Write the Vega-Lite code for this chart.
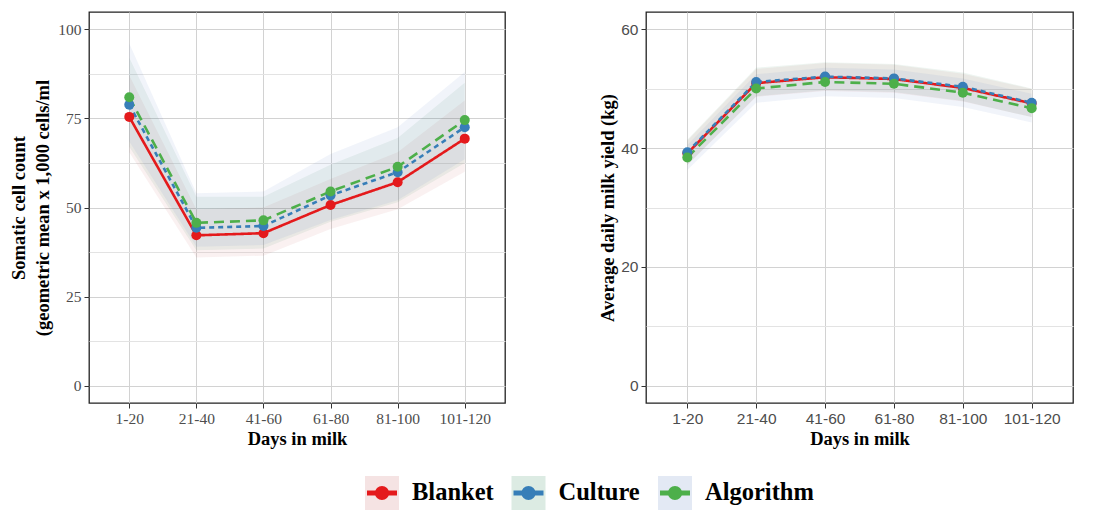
{
  "$schema": "https://vega.github.io/schema/vega-lite/v6.json",
  "background": "white",
  "padding": {"left": 9, "top": 11, "right": 0, "bottom": 0},
  "config": {
    "view": {"stroke": "#222222", "strokeWidth": 1.3},
    "axis": {
      "domain": false,
      "grid": true,
      "gridColor": "#d2d2d2",
      "gridWidth": 1,
      "tickColor": "#333333",
      "tickSize": 5,
      "labelPadding": 3,
      "labelColor": "#4d4d4d",
      "labelFontSize": 15.5,
      "titleFont": "Liberation Serif",
      "titleFontWeight": "bold",
      "titleFontSize": 18.5,
      "titleColor": "#000000"
    }
  },
  "datasets": {
    "scc": [
      {"dim": "1-20", "group": "Blanket", "mean": 75.4, "lo": 65.5, "hi": 87},
      {"dim": "21-40", "group": "Blanket", "mean": 42.2, "lo": 36, "hi": 49.5},
      {"dim": "41-60", "group": "Blanket", "mean": 42.8, "lo": 36.5, "hi": 50},
      {"dim": "61-80", "group": "Blanket", "mean": 50.7, "lo": 44, "hi": 58},
      {"dim": "81-100", "group": "Blanket", "mean": 57.1, "lo": 49.5, "hi": 65.5},
      {"dim": "101-120", "group": "Blanket", "mean": 69.3, "lo": 60, "hi": 80},
      {"dim": "1-20", "group": "Culture", "mean": 78.8, "lo": 67, "hi": 92},
      {"dim": "21-40", "group": "Culture", "mean": 44.3, "lo": 38, "hi": 53},
      {"dim": "41-60", "group": "Culture", "mean": 44.8, "lo": 38.5, "hi": 53},
      {"dim": "61-80", "group": "Culture", "mean": 53.4, "lo": 46, "hi": 62},
      {"dim": "81-100", "group": "Culture", "mean": 59.9, "lo": 51.5, "hi": 69.5},
      {"dim": "101-120", "group": "Culture", "mean": 72.5, "lo": 62.5, "hi": 85},
      {"dim": "1-20", "group": "Algorithm", "mean": 80.9, "lo": 68.5, "hi": 96},
      {"dim": "21-40", "group": "Algorithm", "mean": 45.7, "lo": 39, "hi": 54},
      {"dim": "41-60", "group": "Algorithm", "mean": 46.4, "lo": 39.5, "hi": 54.5},
      {"dim": "61-80", "group": "Algorithm", "mean": 54.5, "lo": 46.5, "hi": 65},
      {"dim": "81-100", "group": "Algorithm", "mean": 61.4, "lo": 52, "hi": 72.5},
      {"dim": "101-120", "group": "Algorithm", "mean": 74.5, "lo": 63.5, "hi": 88}
    ],
    "milk": [
      {"dim": "1-20", "group": "Blanket", "mean": 39.1, "lo": 37.1, "hi": 41.2},
      {"dim": "21-40", "group": "Blanket", "mean": 50.9, "lo": 48.6, "hi": 53.3},
      {"dim": "41-60", "group": "Blanket", "mean": 51.9, "lo": 49.6, "hi": 54.3},
      {"dim": "61-80", "group": "Blanket", "mean": 51.6, "lo": 49.3, "hi": 54.0},
      {"dim": "81-100", "group": "Blanket", "mean": 50.1, "lo": 47.8, "hi": 52.5},
      {"dim": "101-120", "group": "Blanket", "mean": 47.5, "lo": 45.2, "hi": 49.9},
      {"dim": "1-20", "group": "Culture", "mean": 39.3, "lo": 37.2, "hi": 41.4},
      {"dim": "21-40", "group": "Culture", "mean": 51.1, "lo": 48.7, "hi": 53.5},
      {"dim": "41-60", "group": "Culture", "mean": 52.0, "lo": 49.7, "hi": 54.4},
      {"dim": "61-80", "group": "Culture", "mean": 51.7, "lo": 49.4, "hi": 54.1},
      {"dim": "81-100", "group": "Culture", "mean": 50.3, "lo": 47.9, "hi": 52.7},
      {"dim": "101-120", "group": "Culture", "mean": 47.6, "lo": 45.2, "hi": 50.0},
      {"dim": "1-20", "group": "Algorithm", "mean": 38.4, "lo": 36.3, "hi": 40.5},
      {"dim": "21-40", "group": "Algorithm", "mean": 50.0, "lo": 47.6, "hi": 52.4},
      {"dim": "41-60", "group": "Algorithm", "mean": 51.1, "lo": 48.7, "hi": 53.5},
      {"dim": "61-80", "group": "Algorithm", "mean": 50.8, "lo": 48.4, "hi": 53.2},
      {"dim": "81-100", "group": "Algorithm", "mean": 49.3, "lo": 46.9, "hi": 51.7},
      {"dim": "101-120", "group": "Algorithm", "mean": 46.7, "lo": 44.3, "hi": 49.1}
    ],
    "groups": [
      {"group": "Blanket"},
      {"group": "Culture"},
      {"group": "Algorithm"}
    ]
  },
  "spacing": 27,
  "vconcat": [
    {
      "spacing": 92,
      "hconcat": [
        {
          "width": 416,
          "height": 391,
          "data": {"name": "scc"},
          "encoding": {
            "x": {
              "field": "dim",
              "type": "ordinal",
              "sort": ["1-20", "21-40", "41-60", "61-80", "81-100", "101-120"],
              "scale": {"type": "point", "padding": 0.6},
              "axis": {"title": "Days in milk", "labelAngle": 0, "labelFont": "Liberation Serif", "titlePadding": 3}
            }
          },
          "layer": [
            {
              "mark": {"type": "area", "fillOpacity": 0.075},
              "encoding": {
                "y": {
                  "field": "lo",
                  "type": "quantitative",
                  "scale": {"domain": [-4.8, 104.8], "nice": false, "zero": false},
                  "axis": {
                    "title": ["Somatic cell count", "(geometric mean x 1,000 cells/ml"],
                    "titleLineHeight": 24,
                    "titlePadding": 5,
                    "labelFont": "Liberation Serif",
                    "values": [0, 12.5, 25, 37.5, 50, 62.5, 75, 87.5, 100],
                    "labelExpr": "datum.value % 25 === 0 ? datum.label : ''",
                    "tickColor": {"condition": {"test": "datum.value % 25 !== 0", "value": "transparent"}, "value": "#333333"},
                    "gridColor": {"condition": {"test": "datum.value % 25 !== 0", "value": "#e3e3e3"}, "value": "#d2d2d2"}
                  }
                },
                "y2": {"field": "hi"},
                "fill": {
                  "field": "group",
                  "type": "nominal",
                  "scale": {"domain": ["Blanket", "Culture", "Algorithm"], "range": ["#BC4444", "#167A44", "#446CB6"]},
                  "legend": null
                }
              }
            },
            {
              "mark": {"type": "line", "strokeWidth": 2.6},
              "encoding": {
                "y": {"field": "mean", "type": "quantitative"},
                "color": {
                  "field": "group",
                  "type": "nominal",
                  "scale": {"domain": ["Blanket", "Culture", "Algorithm"], "range": ["#E41A1C", "#377EB8", "#4DAF4A"]},
                  "legend": null
                },
                "strokeDash": {
                  "field": "group",
                  "type": "nominal",
                  "scale": {"domain": ["Blanket", "Culture", "Algorithm"], "range": [[1, 0], [5, 4], [10, 6]]},
                  "legend": null
                }
              }
            },
            {
              "mark": {"type": "point", "filled": true, "size": 100, "opacity": 1},
              "encoding": {
                "y": {"field": "mean", "type": "quantitative"},
                "color": {"field": "group", "type": "nominal", "legend": null}
              }
            }
          ]
        },
        {
          "width": 427,
          "height": 391,
          "data": {"name": "milk"},
          "encoding": {
            "x": {
              "field": "dim",
              "type": "ordinal",
              "sort": ["1-20", "21-40", "41-60", "61-80", "81-100", "101-120"],
              "scale": {"type": "point", "padding": 0.6},
              "axis": {"title": "Days in milk", "labelAngle": 0, "labelFont": "Liberation Sans", "titlePadding": 3}
            }
          },
          "layer": [
            {
              "mark": {"type": "area", "fillOpacity": 0.075},
              "encoding": {
                "y": {
                  "field": "lo",
                  "type": "quantitative",
                  "scale": {"domain": [-2.86, 62.86], "nice": false, "zero": false},
                  "axis": {
                    "title": "Average daily milk yield (kg)",
                    "titlePadding": 3,
                    "labelFont": "Liberation Sans",
                    "values": [0, 10, 20, 30, 40, 50, 60],
                    "labelExpr": "datum.value % 20 === 0 ? datum.label : ''",
                    "tickColor": {"condition": {"test": "datum.value % 20 !== 0", "value": "transparent"}, "value": "#333333"},
                    "gridColor": {"condition": {"test": "datum.value % 20 !== 0", "value": "#e3e3e3"}, "value": "#d2d2d2"}
                  }
                },
                "y2": {"field": "hi"},
                "fill": {
                  "field": "group",
                  "type": "nominal",
                  "scale": {"domain": ["Blanket", "Culture", "Algorithm"], "range": ["#BC4444", "#167A44", "#446CB6"]},
                  "legend": null
                }
              }
            },
            {
              "mark": {"type": "line", "strokeWidth": 2.6},
              "encoding": {
                "y": {"field": "mean", "type": "quantitative"},
                "color": {
                  "field": "group",
                  "type": "nominal",
                  "scale": {"domain": ["Blanket", "Culture", "Algorithm"], "range": ["#E41A1C", "#377EB8", "#4DAF4A"]},
                  "legend": null
                },
                "strokeDash": {
                  "field": "group",
                  "type": "nominal",
                  "scale": {"domain": ["Blanket", "Culture", "Algorithm"], "range": [[1, 0], [5, 4], [10, 6]]},
                  "legend": null
                }
              }
            },
            {
              "mark": {"type": "point", "filled": true, "size": 100, "opacity": 1},
              "encoding": {
                "y": {"field": "mean", "type": "quantitative"},
                "color": {"field": "group", "type": "nominal", "legend": null}
              }
            }
          ]
        }
      ]
    },
    {
      "width": 586,
      "height": 34,
      "view": {"stroke": null},
      "data": {"name": "groups"},
      "encoding": {
        "x": {
          "field": "group",
          "type": "nominal",
          "sort": ["Blanket", "Culture", "Algorithm"],
          "scale": {"type": "point", "padding": 1, "align": 1},
          "axis": null
        }
      },
      "layer": [
        {
          "mark": {"type": "point", "shape": "square", "size": 1156, "filled": true, "fillOpacity": 0.15, "strokeWidth": 0},
          "encoding": {
            "fill": {
              "field": "group",
              "type": "nominal",
              "scale": {"domain": ["Blanket", "Culture", "Algorithm"], "range": ["#BC4444", "#167A44", "#446CB6"]},
              "legend": null
            }
          }
        },
        {
          "mark": {"type": "point", "shape": "stroke", "size": 900, "filled": false, "strokeWidth": 5, "opacity": 1},
          "encoding": {
            "stroke": {
              "field": "group",
              "type": "nominal",
              "scale": {"domain": ["Blanket", "Culture", "Algorithm"], "range": ["#E41A1C", "#377EB8", "#4DAF4A"]},
              "legend": null
            }
          }
        },
        {
          "mark": {"type": "point", "shape": "circle", "size": 200, "filled": true, "opacity": 1},
          "encoding": {
            "fill": {
              "field": "group",
              "type": "nominal",
              "scale": {"domain": ["Blanket", "Culture", "Algorithm"], "range": ["#E41A1C", "#377EB8", "#4DAF4A"]},
              "legend": null
            }
          }
        },
        {
          "mark": {"type": "text", "align": "left", "baseline": "middle", "dx": 30, "font": "Liberation Serif", "fontWeight": "bold", "fontSize": 24.5, "color": "#000000"},
          "encoding": {"text": {"field": "group"}}
        }
      ],
      "resolve": {"scale": {"fill": "independent"}}
    }
  ]
}
